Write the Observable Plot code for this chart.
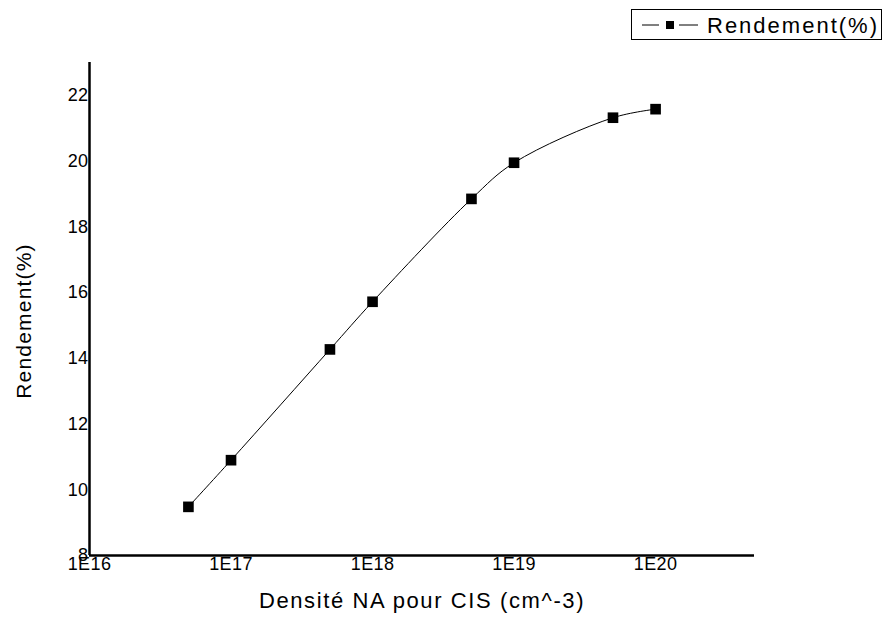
<!DOCTYPE html>
<html>
<head>
<meta charset="utf-8">
<script src="https://cdn.jsdelivr.net/npm/d3@7"></script>
<script src="https://cdn.jsdelivr.net/npm/@observablehq/plot@0.6"></script>
<style>
  html, body { margin: 0; padding: 0; background: #fff; }
  #wrap { position: relative; width: 884px; height: 619px; font-family: "Liberation Sans", Arial, sans-serif; }
  #legend { position: absolute; left: 631px; top: 9px; width: 251px; height: 31px; border: 1px solid #000; background: #fff; box-sizing: border-box; }
  #legend svg { position: absolute; left: 0; top: 0; }
  #legend span { position: absolute; left: 75px; top: 3px; font-size: 22px; color: #000; letter-spacing: 2px; }
</style>
</head>
<body>
<div id="wrap"></div>
<script>
const densities = [5e16, 1e17, 5e17, 1e18, 5e18, 1e19, 5e19, 1e20];
const rendement = [9.48, 10.9, 14.27, 15.72, 18.85, 19.95, 21.32, 21.58];
const xTicks = [1e16, 1e17, 1e18, 1e19, 1e20];
const xTickLabels = ["1E16", "1E17", "1E18", "1E19", "1E20"];
const yTicks = [8, 10, 12, 14, 16, 18, 20, 22];
const seriesName = "Rendement(%)";
const xLabel = "Densité NA pour CIS (cm^-3)";
const yLabel = "Rendement(%)";

const data = densities.map((d, i) => ({x: d, y: rendement[i]}));

const chart = Plot.plot({
  width: 884,
  height: 619,
  marginLeft: 89,
  marginRight: 130,
  marginTop: 62,
  marginBottom: 64,
  style: {fontFamily: "Liberation Sans, Arial, sans-serif", background: "#fff", color: "#000"},
  x: {type: "log", domain: [1e16, 5e20]},
  y: {domain: [8, 23]},
  marks: [
    Plot.axisX({ticks: xTicks, tickFormat: (d) => xTickLabels[xTicks.indexOf(d)], tickSize: 0, tickPadding: 2, fontSize: 18, label: null}),
    Plot.axisY({ticks: yTicks, tickSize: 0, tickPadding: 1, fontSize: 18, label: null}),
    Plot.ruleY([8], {stroke: "#000", strokeWidth: 2.5}),
    Plot.ruleX([1e16], {stroke: "#000", strokeWidth: 2.5}),
    Plot.line(data, {x: "x", y: "y", curve: "catmull-rom", stroke: "#000", strokeWidth: 1}),
    Plot.dot(data, {x: "x", y: "y", symbol: "square", r: 6, fill: "#000", stroke: "none"}),
    Plot.text([xLabel], {frameAnchor: "bottom", dy: 52, fontSize: 22, fill: "#000", className: "xlab"}),
    Plot.text([yLabel], {frameAnchor: "left", textAnchor: "middle", dx: -65, dy: 12, rotate: -90, fontSize: 21, fill: "#000", className: "ylab"})
  ]
});
chart.querySelectorAll("text").forEach(t => t.style.letterSpacing = "0.4px");
chart.querySelectorAll(".xlab text").forEach(t => t.style.letterSpacing = "1.6px");
chart.querySelectorAll(".ylab text").forEach(t => t.style.letterSpacing = "1.2px");
document.getElementById("wrap").appendChild(chart);

// legend
const leg = document.createElement("div");
leg.id = "legend";
leg.innerHTML = `<svg width="80" height="30"><line x1="10" x2="27" y1="15" y2="15" stroke="#000" stroke-width="1"/><line x1="47" x2="66" y1="15" y2="15" stroke="#000" stroke-width="1"/><rect x="34" y="11" width="8" height="8" fill="#000"/></svg><span>${seriesName}</span>`;
document.getElementById("wrap").appendChild(leg);
</script>
</body>
</html>
